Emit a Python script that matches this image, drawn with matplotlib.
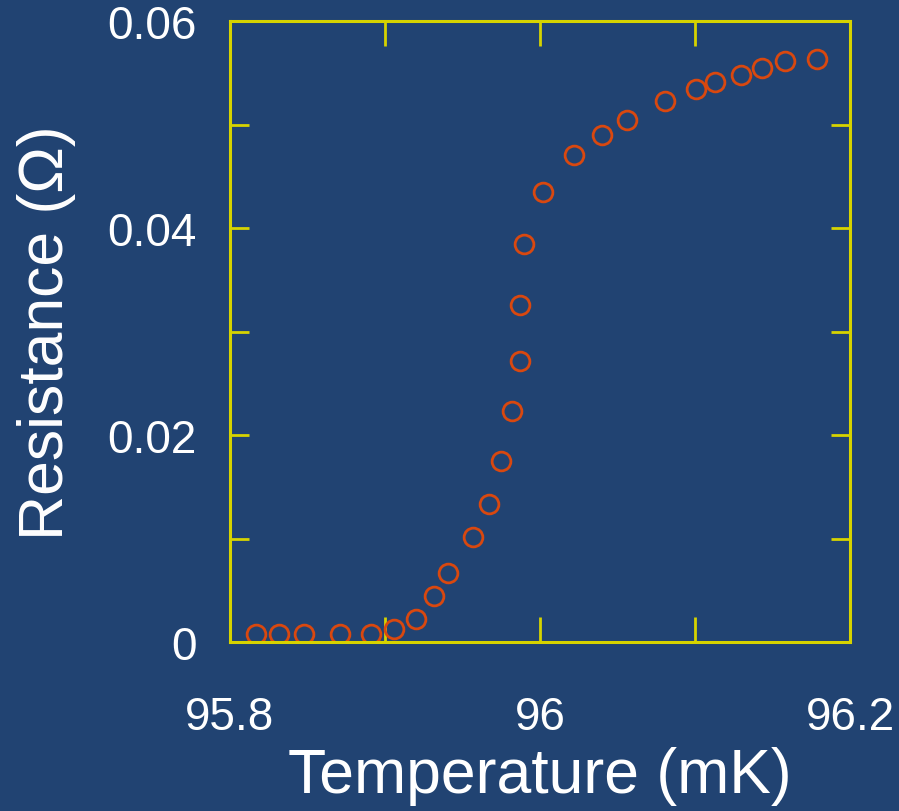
import matplotlib
matplotlib.use('Agg')
import matplotlib.pyplot as plt
from matplotlib.ticker import MultipleLocator

# data
temperature = [95.817, 95.832, 95.848, 95.871, 95.891, 95.906, 95.920, 95.932,
               95.941, 95.957, 95.967, 95.975, 95.982, 95.987, 95.987, 95.990,
               96.002, 96.022, 96.040, 96.056, 96.081, 96.101, 96.113, 96.130,
               96.143, 96.158, 96.179]
resistance = [0.0008, 0.0008, 0.0008, 0.0008, 0.0008, 0.0013, 0.0023, 0.0045,
              0.0067, 0.0102, 0.0134, 0.0175, 0.0223, 0.0272, 0.0326, 0.0385,
              0.0435, 0.0471, 0.0490, 0.0504, 0.0523, 0.0534, 0.0541, 0.0548,
              0.0555, 0.0561, 0.0563]

bg = '#214372'
axis_col = '#d6d300'
mark_col = '#d9480f'

plt.rcParams['font.family'] = ['Liberation Sans', 'DejaVu Sans']

fig = plt.figure(figsize=(8.99, 8.12), dpi=100, facecolor=bg)
ax = fig.add_axes([0.2555, 0.2077, 0.69, 0.7652], facecolor=bg)

# open circles
ax.plot(temperature, resistance, linestyle='', marker='o', markersize=13.5,
        markerfacecolor='none', markeredgecolor=mark_col, markeredgewidth=2.0)

ax.set_xlim(95.8, 96.2)
ax.set_ylim(0, 0.06)
ax.xaxis.set_major_locator(MultipleLocator(0.2))
ax.xaxis.set_minor_locator(MultipleLocator(0.1))
ax.yaxis.set_major_locator(MultipleLocator(0.02))
ax.yaxis.set_minor_locator(MultipleLocator(0.01))
ax.xaxis.set_major_formatter(plt.FuncFormatter(lambda v, p: '%g' % round(v, 2)))
ax.yaxis.set_major_formatter(plt.FuncFormatter(lambda v, p: '%g' % round(v, 3)))

for s in ax.spines.values():
    s.set_color(axis_col)
    s.set_linewidth(2.2)

ax.tick_params(axis='x', which='both', direction='in', top=True, bottom=True,
               length=18, width=2, color=axis_col, labelcolor='white',
               labelsize=33, pad=38)
ax.tick_params(axis='y', which='both', direction='in', left=True, right=True,
               length=14, width=2, color=axis_col, labelcolor='white',
               labelsize=33, pad=24)

ax.set_xlabel('Temperature (mK)', color='white', fontsize=45, labelpad=5)
ax.set_ylabel('Resistance (\u03a9)', color='white', fontsize=45, labelpad=22)

fig.savefig('out.png', dpi=100, facecolor=bg)
